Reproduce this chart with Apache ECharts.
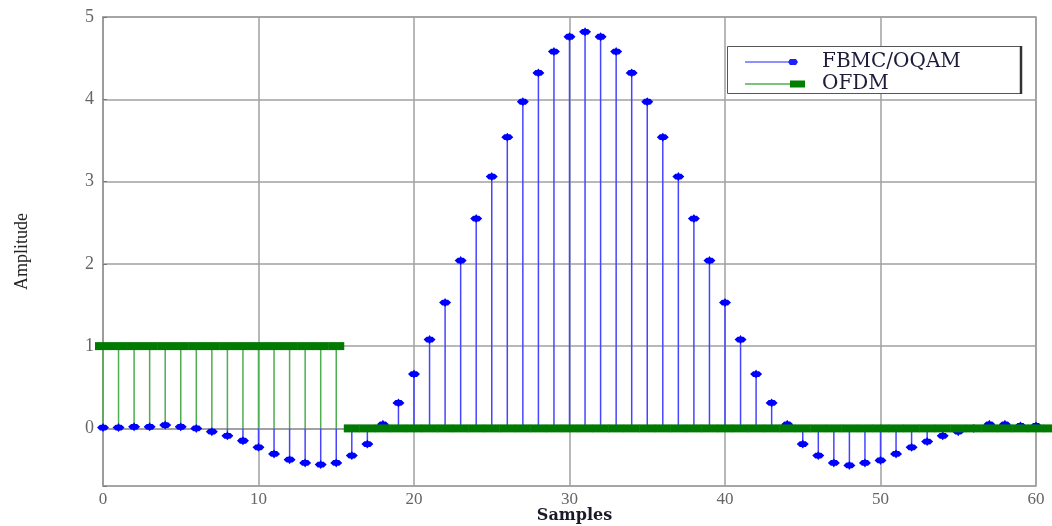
<!DOCTYPE html>
<html>
<head>
<meta charset="utf-8">
<script src="https://cdn.jsdelivr.net/npm/echarts@6/dist/echarts.min.js"></script>
<style>html,body{margin:0;padding:0;background:#fff}#chart{width:1052px;height:526px}</style>
</head>
<body>
<div id="chart"></div>
<script>
// FBMC/OQAM pulse samples (index = sample number 0..60)
var fbmcValues = [0.01, 0.01, 0.02, 0.02, 0.04, 0.02, 0.0, -0.04, -0.09, -0.15, -0.23, -0.31, -0.38, -0.42, -0.44, -0.42, -0.33, -0.19,
  0.05, 0.31, 0.66, 1.08, 1.53, 2.04, 2.55, 3.06, 3.54, 3.97, 4.32, 4.58, 4.76, 4.82, 4.76, 4.58, 4.32, 3.97, 3.54, 3.06, 2.55, 2.04, 1.53, 1.08, 0.66, 0.31, 0.05,
  -0.19, -0.33, -0.42, -0.45, -0.42, -0.39, -0.31, -0.23, -0.16, -0.09, -0.04, 0.0, 0.05, 0.05, 0.03, 0.03];
// OFDM rectangular pulse samples (index = sample number 0..61)
var ofdmValues = [1, 1, 1, 1, 1, 1, 1, 1, 1, 1, 1, 1, 1, 1, 1, 1,
  0, 0, 0, 0, 0, 0, 0, 0, 0, 0, 0, 0, 0, 0, 0, 0, 0, 0, 0, 0, 0, 0, 0, 0, 0, 0, 0, 0, 0, 0, 0, 0, 0, 0, 0, 0, 0, 0, 0, 0, 0, 0, 0, 0, 0, 0];
var xTicks = [0, 10, 20, 30, 40, 50, 60];
var yTicks = [0, 1, 2, 3, 4, 5];
var seriesNames = ['FBMC/OQAM', 'OFDM'];
var axisNames = { x: 'Samples', y: 'Amplitude' };

function pairs(vals) { return vals.map(function (v, i) { return [i, v]; }); }

function stemRender(color, width) {
  return function (params, api) {
    var x = api.value(0), y = api.value(1);
    var p0 = api.coord([x, 0]), p1 = api.coord([x, y]);
    return { type: 'line', shape: { x1: p0[0], y1: p0[1], x2: p1[0], y2: p1[1] },
      style: { stroke: color, lineWidth: width } };
  };
}

var fbmcIcon = 'path://M0,4.4L47,4.4L47,5.6L0,5.6Z M43,5L45,2L51,2L53,5L51,8L45,8Z M60,5L60,5.01Z';
var ofdmIcon = 'path://M0,4.4L46,4.4L46,5.6L0,5.6Z M45,1.5L60,1.5L60,8.5L45,8.5Z';
var starMarker = 'path://M0,5L2.5,1.8L4,1.8L5,0L6,1.8L7.5,1.8L10,5L7.5,8.2L6,8.2L5,10L4,8.2L2.5,8.2Z';

var chart = echarts.init(document.getElementById('chart'), null, { renderer: 'canvas' });
var option = {
  backgroundColor: '#fff',
  animation: false,
  grid: { left: 103, right: 16, top: 17, bottom: 40, show: true, borderColor: '#9a9a9a', borderWidth: 1.5,
    backgroundColor: 'transparent', outerBoundsMode: 'none', containLabel: false },
  xAxis: {
    type: 'value', min: xTicks[0], max: xTicks[xTicks.length - 1], interval: 10,
    name: axisNames.x, nameLocation: 'middle', nameGap: 22, nameMoveOverlap: false,
    nameTextStyle: { fontFamily: 'DejaVu Serif', fontWeight: 'bold', fontSize: 16, color: '#1a1a2a', padding: [0, 0, 0, 10],
      verticalAlign: 'top' },
    axisLine: { lineStyle: { color: '#9a9a9a', width: 1.5 } },
    axisTick: { inside: true, length: 4, lineStyle: { color: '#777' } },
    axisLabel: { margin: 5, fontFamily: 'Liberation Serif', fontSize: 17, color: '#666' },
    splitLine: { lineStyle: { color: '#a0a0a0', width: 1.5 } }
  },
  yAxis: {
    type: 'value', min: -0.7, max: yTicks[yTicks.length - 1], splitNumber: 5,
    name: axisNames.y, nameLocation: 'middle', nameGap: 72, nameRotate: 90,
    nameTextStyle: { fontFamily: 'Liberation Serif', fontSize: 18, color: '#222' },
    axisLine: { lineStyle: { color: '#9a9a9a', width: 1.5 } },
    axisTick: { inside: true, length: 4, lineStyle: { color: '#777' } },
    axisLabel: { margin: 9, fontFamily: 'Liberation Serif', fontSize: 18, color: '#666',
      formatter: function (v) { return yTicks.indexOf(Math.round(v * 1000) / 1000) >= 0 ? String(Math.round(v)) : ''; } },
    splitLine: { lineStyle: { color: '#a0a0a0', width: 1.5 } }
  },
  legend: {
    orient: 'vertical', left: 740, top: 47, itemWidth: 60, itemHeight: 10, itemGap: 2,
    symbolKeepAspect: true,
    textStyle: { fontFamily: 'DejaVu Serif', fontSize: 20, color: '#1c1c3a', padding: [0, 0, 0, 12] },
    data: [
      { name: seriesNames[0], icon: fbmcIcon, itemStyle: { color: '#2020ff' } },
      { name: seriesNames[1], icon: ofdmIcon, itemStyle: { color: '#008000' } }
    ],
    z: 10
  },
  graphic: [
    { type: 'rect', left: 727, top: 46, z: 5, shape: { width: 293, height: 47 },
      style: { fill: '#fff', stroke: '#555', lineWidth: 1 } },
    { type: 'line', z: 6, shape: { x1: 1021, y1: 46, x2: 1021, y2: 94 }, style: { stroke: '#333', lineWidth: 2.5 } }
  ],
  series: [
    { name: seriesNames[1], type: 'custom', data: pairs(ofdmValues), renderItem: stemRender('#4fae4f', 1.5), z: 2, clip: false, silent: true },
    { name: seriesNames[0], type: 'custom', data: pairs(fbmcValues), renderItem: stemRender('#4545ff', 1.5), z: 3, silent: true },
    { name: seriesNames[0], type: 'scatter', data: pairs(fbmcValues), z: 4,
      symbol: starMarker, symbolSize: [12, 9], symbolKeepAspect: false,
      itemStyle: { color: '#0000ff', opacity: 1 } },
    { name: seriesNames[1], type: 'scatter', data: pairs(ofdmValues), z: 5, clip: false,
      symbol: 'rect', symbolSize: [16, 8], itemStyle: { color: '#007a00', opacity: 1 } }
  ]
};
chart.setOption(option);
</script>
</body>
</html>
